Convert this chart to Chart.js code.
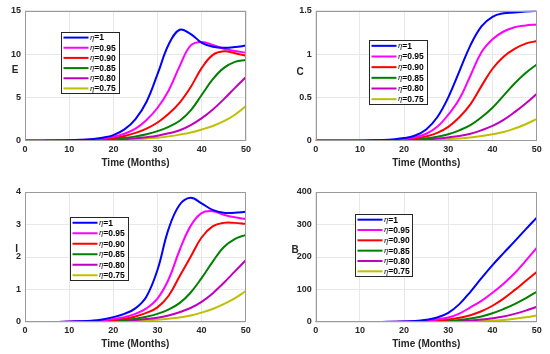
<!DOCTYPE html>
<html><head><meta charset="utf-8">
<script src="https://cdn.jsdelivr.net/npm/chart.js@4/dist/chart.umd.min.js"></script>
<style>
html,body{margin:0;padding:0;background:#fff;}
#wrap{position:relative;width:550px;height:354px;overflow:hidden;background:#fff;}
canvas{position:absolute;}
</style></head><body>
<div id="wrap">
<canvas id="cE" width="275" height="177" style="left:0;top:0"></canvas>
<canvas id="cC" width="275" height="177" style="left:275px;top:0"></canvas>
<canvas id="cI" width="275" height="177" style="left:0;top:177px"></canvas>
<canvas id="cB" width="275" height="177" style="left:275px;top:177px"></canvas>
</div>
<script>
// ---- data ----
const months = [0,2.5,5,7.5,10,12.5,15,17.5,20,22.5,25,27.5,30,32.5,35,37.5,40,42.5,45,47.5,50];
const etaValues = ['1','0.95','0.90','0.85','0.80','0.75'];
const xTickStep = 10;
const xLabel = 'Time (Months)';

const E_100 = [0,0,0.01,0.02,0.05,0.1,0.18,0.35,0.65,1.3,2.5,4.5,7.7,11.1,12.8,12.3,11.3,10.85,10.72,10.8,10.98];
const E_095 = [0,0,0,0.01,0.03,0.07,0.14,0.25,0.45,0.8,1.4,2.4,3.8,5.8,8.6,11.0,11.4,11.05,10.6,10.35,10.15];
const E_090 = [0,0,0,0.01,0.02,0.05,0.1,0.18,0.3,0.55,0.9,1.4,2.1,3.1,4.4,6.2,8.4,9.9,10.32,10.1,9.8];
const E_085 = [0,0,0,0,0.01,0.03,0.06,0.12,0.2,0.33,0.5,0.75,1.1,1.6,2.3,3.5,5.3,7.1,8.4,9.1,9.3];
const E_080 = [0,0,0,0,0.01,0.02,0.04,0.07,0.11,0.18,0.27,0.4,0.58,0.85,1.2,1.8,2.6,3.6,4.8,6.1,7.35];
const E_075 = [0,0,0,0,0,0.01,0.02,0.04,0.07,0.11,0.17,0.25,0.35,0.5,0.7,0.95,1.3,1.7,2.25,3.0,4.0];

const C_100 = [0,0,0,0,0,0.003,0.007,0.015,0.03,0.06,0.13,0.27,0.5,0.8,1.1,1.32,1.43,1.47,1.48,1.49,1.5];
const C_095 = [0,0,0,0,0,0.002,0.005,0.01,0.02,0.04,0.08,0.16,0.3,0.48,0.75,1.02,1.17,1.26,1.31,1.33,1.34];
const C_090 = [0,0,0,0,0,0.002,0.004,0.008,0.014,0.027,0.05,0.09,0.16,0.27,0.42,0.63,0.83,0.97,1.06,1.12,1.15];
const C_085 = [0,0,0,0,0,0.001,0.003,0.005,0.009,0.016,0.028,0.046,0.075,0.12,0.18,0.27,0.38,0.52,0.66,0.78,0.88];
const C_080 = [0,0,0,0,0,0.001,0.002,0.003,0.005,0.009,0.015,0.024,0.038,0.055,0.08,0.12,0.17,0.24,0.33,0.43,0.54];
const C_075 = [0,0,0,0,0,0,0.001,0.002,0.003,0.005,0.008,0.012,0.018,0.026,0.038,0.054,0.075,0.1,0.14,0.19,0.25];

const I_100 = [0,0,0,0,0.01,0.02,0.04,0.08,0.15,0.25,0.42,0.78,1.6,2.85,3.6,3.82,3.65,3.45,3.36,3.36,3.39];
const I_095 = [0,0,0,0,0.01,0.015,0.03,0.05,0.09,0.15,0.25,0.42,0.72,1.3,2.2,2.95,3.35,3.41,3.3,3.22,3.17];
const I_090 = [0,0,0,0,0.005,0.01,0.02,0.035,0.06,0.1,0.17,0.28,0.45,0.8,1.4,2.0,2.6,2.94,3.05,3.05,3.02];
const I_085 = [0,0,0,0,0.004,0.008,0.015,0.025,0.04,0.065,0.1,0.16,0.25,0.38,0.58,0.9,1.35,1.85,2.3,2.55,2.68];
const I_080 = [0,0,0,0,0.003,0.006,0.01,0.017,0.027,0.04,0.06,0.09,0.13,0.2,0.3,0.43,0.62,0.88,1.2,1.55,1.9];
const I_075 = [0,0,0,0,0.002,0.004,0.007,0.011,0.017,0.025,0.036,0.05,0.07,0.1,0.14,0.2,0.29,0.4,0.55,0.73,0.95];

const B_100 = [0,0,0,0,0,0,0.3,0.8,1.5,3,7,14,28,55,93,135,175,212,248,285,321];
const B_095 = [0,0,0,0,0,0,0.2,0.5,1,2,4.5,8,14,26,45,65,90,118,150,188,228];
const B_090 = [0,0,0,0,0,0,0.1,0.3,0.6,1.2,2.5,4.5,7.5,13,21,33,50,72,98,126,154];
const B_085 = [0,0,0,0,0,0,0.1,0.2,0.4,0.8,1.5,2.5,4,6.5,10.5,17,27,40,55,73,93];
const B_080 = [0,0,0,0,0,0,0,0.1,0.2,0.4,0.7,1.1,1.8,3,4.8,7.5,11.5,17,25,35,47];
const B_075 = [0,0,0,0,0,0,0,0,0.1,0.2,0.3,0.5,0.8,1.3,2,3,4.5,6.5,10,14.5,20];

// ---- style ----
const colors = ['#0000ff','#ff00ff','#ff0000','#008000','#bf00bf','#bfbf00'];
const FONT = '"Liberation Sans", Arial, sans-serif';

const panels = [
  {id:'cE', name:'E', series:[E_100,E_095,E_090,E_085,E_080,E_075], yMax:15, yStep:5,
   area:{l:25,r:246,t:10.7,b:140.7}, ylab:{x:15,y:70}, legend:{x:61,y:32,w:58,h:61}},
  {id:'cC', name:'C', series:[C_100,C_095,C_090,C_085,C_080,C_075], yMax:1.5, yStep:0.5,
   area:{l:40.7,r:261.7,t:10.7,b:140.7}, ylab:{x:25,y:72}, legend:{x:94,y:40,w:58,h:64}},
  {id:'cI', name:'I', series:[I_100,I_095,I_090,I_085,I_080,I_075], yMax:4, yStep:1,
   area:{l:25,r:245.7,t:15,b:145}, ylab:{x:16.7,y:72}, legend:{x:70,y:40,w:58,h:63}},
  {id:'cB', name:'B', series:[B_100,B_095,B_090,B_085,B_080,B_075], yMax:400, yStep:100,
   area:{l:40.7,r:261.7,t:15,b:145}, ylab:{x:20,y:73}, legend:{x:80,y:37,w:57,h:62}}
];

const framePlugin = {
  id:'frame',
  afterDatasetsDraw(chart, args, o){
    const ctx = chart.ctx, a = chart.chartArea;
    ctx.save();
    ctx.strokeStyle = '#9a9a9a'; ctx.lineWidth = 1;
    ctx.strokeRect(Math.round(a.left)+0.5, Math.round(a.top)+0.5, Math.round(a.right-a.left)-1, Math.round(a.bottom-a.top)-1);
    ctx.fillStyle = '#262626';
    ctx.font = 'bold 10px ' + FONT;
    ctx.textAlign = 'center'; ctx.textBaseline = 'middle';
    ctx.fillText(xLabel, (a.left+a.right)/2, a.bottom + 22.5);
    ctx.fillText(o.ylabel, o.ylx, o.yly);
    ctx.restore();
  }
};

const legendPlugin = {
  id:'mLegend',
  afterDraw(chart, args, o){
    const ctx = chart.ctx, b = o.box;
    ctx.save();
    ctx.fillStyle = '#fff'; ctx.fillRect(b.x, b.y, b.w, b.h);
    ctx.strokeStyle = '#262626'; ctx.lineWidth = 1;
    ctx.strokeRect(Math.round(b.x)+0.5, Math.round(b.y)+0.5, b.w, b.h);
    const n = chart.data.datasets.length, rowH = b.h / n;
    chart.data.datasets.forEach((ds, i) => {
      const cy = b.y + rowH*(i+0.5) + 0.5;
      ctx.strokeStyle = ds.borderColor; ctx.lineWidth = 2;
      ctx.beginPath(); ctx.moveTo(b.x+2.5, cy); ctx.lineTo(b.x+27.5, cy); ctx.stroke();
      ctx.fillStyle = '#000'; ctx.textAlign = 'left'; ctx.textBaseline = 'middle';
      const parts = ds.label.split('=');
      ctx.font = 'italic 8.5px "Liberation Serif", serif';
      ctx.fillText(parts[0], b.x+29, cy);
      const w = ctx.measureText(parts[0]).width;
      ctx.font = 'bold 8.5px ' + FONT;
      ctx.fillText('=' + parts[1], b.x+29+w, cy+0.5);
    });
    ctx.restore();
  }
};

panels.forEach(p => {
  const W = 275, H = 177;
  new Chart(document.getElementById(p.id), {
    type:'line',
    data:{
      datasets: p.series.map((vals, i) => ({
        label: 'η=' + etaValues[i],
        data: months.map((m, k) => ({x:m, y:vals[k]})),
        borderColor: colors[i], backgroundColor: colors[i],
        borderWidth: 2, pointRadius: 0, fill:false, tension:0.4
      }))
    },
    options:{
      responsive:false, animation:false, devicePixelRatio:1,
      layout:{padding:{left:0, top:p.area.t, right:W-p.area.r, bottom:0}},
      plugins:{
        legend:{display:false}, tooltip:{enabled:false},
        frame:{ylabel:p.name, ylx:p.ylab.x, yly:p.ylab.y},
        mLegend:{box:p.legend}
      },
      scales:{
        x:{type:'linear', min:0, max:50,
           ticks:{stepSize:xTickStep, color:'#262626', padding:3, font:{family:FONT, size:9, weight:'bold'}, maxRotation:0},
           grid:{color:'#e8e8e8', drawTicks:false, lineWidth:1},
           border:{display:false},
           afterFit: s => { s.height = H - p.area.b; }},
        y:{min:0, max:p.yMax,
           ticks:{stepSize:p.yStep, color:'#262626', padding:4, font:{family:FONT, size:9, weight:'bold'}, callback:v => String(v)},
           grid:{color:'#e8e8e8', drawTicks:false, lineWidth:1},
           border:{display:false},
           afterFit: s => { s.width = p.area.l; }}
      }
    },
    plugins:[framePlugin, legendPlugin]
  });
});
</script>
</body></html>
